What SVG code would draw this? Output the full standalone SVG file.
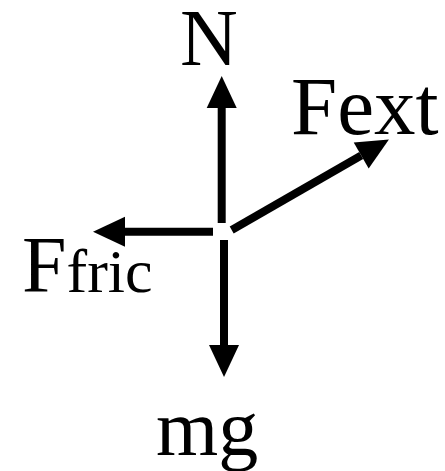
<svg xmlns="http://www.w3.org/2000/svg" width="445" height="471" viewBox="0 0 445 471">
<style>
.lbl{font-family:"Liberation Serif","Times New Roman",serif;fill:#000;font-size:80px}
.big{font-size:83px}
.sm{font-size:62px}
.shaft{stroke:#000;stroke-width:8;fill:none}
</style>
<defs>
<marker id="ah" markerUnits="userSpaceOnUse" markerWidth="32" markerHeight="30" refX="0" refY="15" orient="auto" overflow="visible">
<path d="M0,0 L32,15 L0,30 Z" fill="#000"/>
</marker>
</defs>
<rect width="445" height="471" fill="#fff"/>
<g id="connectors">
<line class="shaft" x1="221.7" y1="223" x2="221.7" y2="108" marker-end="url(#ah)"/>
<line class="shaft" x1="224" y1="240" x2="224" y2="345" marker-end="url(#ah)"/>
<line class="shaft" x1="213" y1="231.7" x2="125" y2="231.7" marker-end="url(#ah)"/>
<line class="shaft" x1="231.7" y1="230" x2="361.2" y2="155.5" marker-end="url(#ah)"/>
</g>
<g id="N"><text class="lbl" x="209" y="65" text-anchor="middle">N</text></g>
<g id="Fext"><text class="lbl big" x="291" y="134">Fext</text></g>
<g id="Ffric"><text class="lbl" x="22" y="292">F<tspan class="sm">fric</tspan></text></g>
<g id="mg"><text class="lbl" x="156" y="455">mg</text></g>
</svg>
